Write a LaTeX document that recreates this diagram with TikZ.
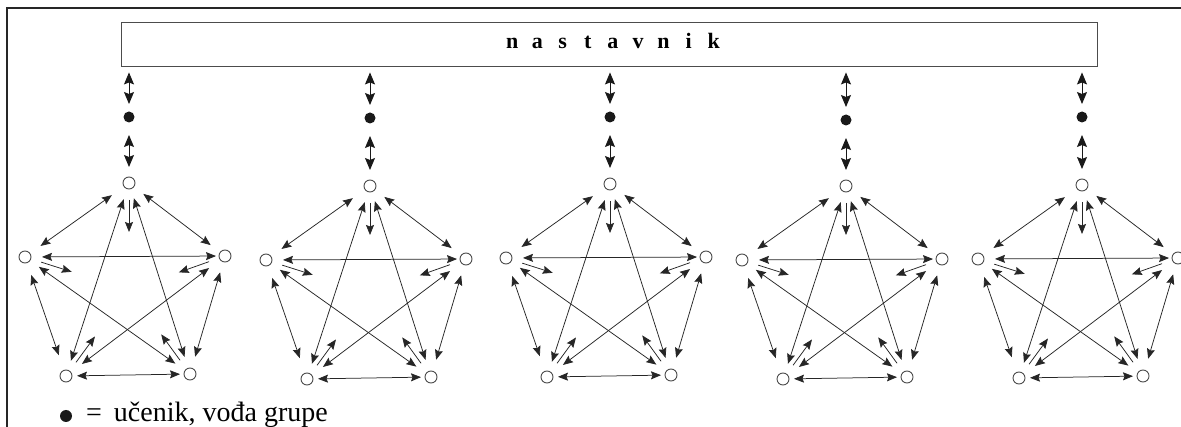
\documentclass[tikz,border=0pt]{standalone}
\usepackage{fontspec}
\setmainfont{Liberation Serif}
\usetikzlibrary{arrows.meta,calc}
\newcommand\spacedletter[1]{\makebox[25.2pt]{#1}}
\begin{document}
\begin{tikzpicture}[x=1pt,y=-1pt,
 pnode/.style={circle,draw=black!70,line width=0.9pt,minimum size=12pt,inner sep=0pt,fill=white},
 lead/.style={circle,fill=black!90,minimum size=11pt,inner sep=0pt},
 pedge/.style={line width=0.75pt,draw=black!85,{Stealth[length=10pt,width=8pt,inset=1.5pt]}-{Stealth[length=10pt,width=8pt,inset=1.5pt]}},
 inarrow/.style={line width=0.75pt,draw=black!85,-{Stealth[length=10pt,width=8pt,inset=1.5pt]}},
 varrow/.style={line width=0.9pt,draw=black!90,{Stealth[length=12pt,width=10pt,inset=2pt]}-{Stealth[length=12pt,width=10pt,inset=2pt]}},
]
\useasboundingbox (0,0) rectangle (1181,427);
\fill[white] (0,0) rectangle (1181,427);
% outer frame (cut on right and bottom)
\draw[line width=1.2pt,black!85] (1181,8) -- (7,8) -- (7,427);
% teacher box
\node[draw=black!70,line width=0.9pt,minimum width=976pt,minimum height=44pt,inner sep=0pt] (box) at (609,44) {};
\node[anchor=base,inner sep=0pt,font=\bfseries\fontsize{22}{24}\selectfont] (title) at (613,49)
 {\spacedletter{n}\spacedletter{a}\spacedletter{s}\spacedletter{t}\spacedletter{a}\spacedletter{v}\spacedletter{n}\spacedletter{i}\spacedletter{k}};
\foreach \i/\x/\y/\d in {1/129/183/117,2/370/186/118,3/610/184/117,4/846/186/120,5/1082/185/117} {
 \node[pnode] (t\i) at (\x,\y) {};
 \node[pnode] (l\i) at (\x-104,\y+74) {};
 \node[pnode] (r\i) at (\x+96,\y+73) {};
 \node[pnode] (bl\i) at (\x-63,\y+193) {};
 \node[pnode] (br\i) at (\x+61,\y+191) {};
 \node[lead] (d\i) at (\x,\d) {};
 \coordinate (c\i) at (\x,\y+107);
 \coordinate (b\i) at (box.south -| d\i);
 % teacher <-> leader <-> group
 \draw[varrow,shorten <=6pt,shorten >=13pt] (b\i) -- (d\i.center);
 \draw[varrow,shorten <=18pt,shorten >=16pt] (d\i.center) -- (t\i.center);
 % all pairs
 \draw[pedge,shorten <=21pt,shorten >=19pt] (t\i.center) -- (l\i.center);
 \draw[pedge,shorten <=18pt,shorten >=18pt] (t\i.center) -- (r\i.center);
 \draw[pedge,shorten <=17pt,shorten >=16pt] (t\i.center) -- (bl\i.center);
 \draw[pedge,shorten <=16pt,shorten >=18pt] (t\i.center) -- (br\i.center);
 \draw[pedge,shorten <=17pt,shorten >=9pt] (l\i.center) -- (r\i.center);
 \draw[pedge,shorten <=19pt,shorten >=22pt] (l\i.center) -- (bl\i.center);
 \draw[pedge,shorten <=17pt,shorten >=18pt] (l\i.center) -- (br\i.center);
 \draw[pedge,shorten <=20pt,shorten >=20pt] (r\i.center) -- (bl\i.center);
 \draw[pedge,shorten <=17pt,shorten >=18pt] (r\i.center) -- (br\i.center);
 \draw[pedge,shorten <=11pt,shorten >=10pt] (bl\i.center) -- (br\i.center);
 % short arrows towards the middle
 \foreach \n in {t,l,r,bl,br} {
  \draw[inarrow] ($(\n\i)!17pt!(c\i)$) -- ($(\n\i)!49pt!(c\i)$);
 }
}
% legend
\node[lead,minimum size=12pt] (lg) at (66,416) {};
\node[anchor=base west,inner sep=0pt,font=\fontsize{28}{30}\selectfont] (lt) at (86,422) {=\hspace{12pt}učenik, vođa grupe};
\end{tikzpicture}
\end{document}
